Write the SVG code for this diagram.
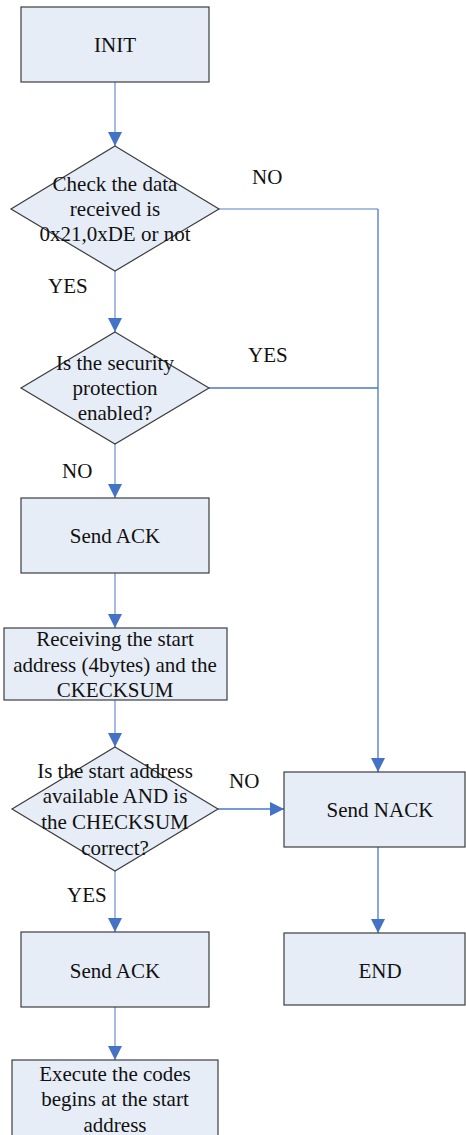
<svg xmlns="http://www.w3.org/2000/svg" width="466" height="1135" viewBox="0 0 466 1135">
  <style>
    .box { fill: #e7edf7; stroke: #3c3c3c; stroke-width: 1.2; }
    .lbl { font-family: "Liberation Serif", "Times New Roman", serif; font-size: 21px; fill: #111; text-anchor: middle; }
    .note { font-family: "Liberation Serif", "Times New Roman", serif; font-size: 21px; fill: #111; }
    .c-light { fill: none; stroke: #8eaadb; stroke-width: 1.6; }
    .c-dark { fill: none; stroke: #4a78c6; stroke-width: 1.3; }
  </style>
  <defs>
    <marker id="arrow" markerUnits="userSpaceOnUse" markerWidth="14" markerHeight="14" refX="14" refY="7" orient="auto">
      <path d="M0,0 L14,7 L0,14 z" fill="#4472c4"/>
    </marker>
  </defs>

  <rect width="466" height="1135" fill="#ffffff"/>

  <!-- connectors -->
  <g id="connectors">
    <path class="c-light" d="M115,82 V146" marker-end="url(#arrow)"/>
    <path class="c-light" d="M115,271 V332" marker-end="url(#arrow)"/>
    <path class="c-light" d="M115,444 V498" marker-end="url(#arrow)"/>
    <path class="c-light" d="M115,573 V628" marker-end="url(#arrow)"/>
    <path class="c-light" d="M115,700 V747" marker-end="url(#arrow)"/>
    <path class="c-light" d="M115,871 V932" marker-end="url(#arrow)"/>
    <path class="c-light" d="M115,1007 V1060" marker-end="url(#arrow)"/>
    <path class="c-light" d="M219,209 H378"/>
    <path class="c-dark" d="M378,209 V772" marker-end="url(#arrow)"/>
    <path class="c-dark" d="M209,388 H378"/>
    <path class="c-dark" d="M218,809 H284" marker-end="url(#arrow)"/>
    <path class="c-dark" d="M378,847 V933" marker-end="url(#arrow)"/>
    <text class="note" x="252" y="184">NO</text>
    <text class="note" x="48" y="293">YES</text>
    <text class="note" x="248" y="362">YES</text>
    <text class="note" x="62" y="478">NO</text>
    <text class="note" x="229" y="788">NO</text>
    <text class="note" x="67" y="902">YES</text>
  </g>

  <g id="init">
    <rect class="box" x="21" y="7" width="188" height="75"/>
    <text class="lbl" x="115" y="52">INIT</text>
  </g>

  <g id="check-data">
    <polygon class="box" points="115,146 219,209 115,271 11,209"/>
    <text class="lbl" x="115" y="191">Check the data</text>
    <text class="lbl" x="115" y="216">received is</text>
    <text class="lbl" x="115" y="241">0x21,0xDE or not</text>
  </g>

  <g id="security-check">
    <polygon class="box" points="115,332 209,388 115,444 21,388"/>
    <text class="lbl" x="115" y="370">Is the security</text>
    <text class="lbl" x="115" y="395">protection</text>
    <text class="lbl" x="115" y="420">enabled?</text>
  </g>

  <g id="send-ack-1">
    <rect class="box" x="21" y="498" width="188" height="75"/>
    <text class="lbl" x="115" y="543">Send ACK</text>
  </g>

  <g id="receive-address">
    <rect class="box" x="4" y="628" width="223" height="72"/>
    <text class="lbl" x="115" y="646">Receiving the start</text>
    <text class="lbl" x="115" y="672">address (4bytes) and the</text>
    <text class="lbl" x="115" y="697">CKECKSUM</text>
  </g>

  <g id="address-check">
    <polygon class="box" points="115,747 218,809 115,871 12,809"/>
    <text class="lbl" x="115" y="778">Is the start address</text>
    <text class="lbl" x="115" y="803">available AND is</text>
    <text class="lbl" x="115" y="829">the CHECKSUM</text>
    <text class="lbl" x="115" y="855">correct?</text>
  </g>

  <g id="send-nack">
    <rect class="box" x="284" y="772" width="181" height="75"/>
    <text class="lbl" x="380" y="817">Send NACK</text>
  </g>

  <g id="send-ack-2">
    <rect class="box" x="21" y="932" width="188" height="75"/>
    <text class="lbl" x="115" y="978">Send ACK</text>
  </g>

  <g id="end">
    <rect class="box" x="284" y="933" width="181" height="72"/>
    <text class="lbl" x="380" y="978">END</text>
  </g>

  <g id="execute">
    <rect class="box" x="12" y="1060" width="206" height="90"/>
    <text class="lbl" x="115" y="1081">Execute the codes</text>
    <text class="lbl" x="115" y="1106">begins at the start</text>
    <text class="lbl" x="115" y="1132">address</text>
  </g>
</svg>
